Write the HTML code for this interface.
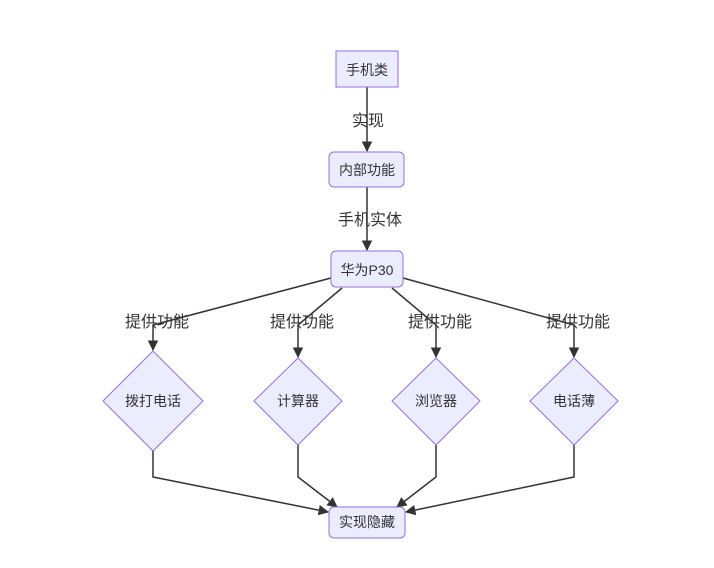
<!DOCTYPE html>
<html><head><meta charset="utf-8"><style>
html,body{margin:0;padding:0;background:#fff;}
svg text{font-family:"Liberation Sans","Noto Sans CJK SC",sans-serif;fill:#333;}
</style></head><body>
<svg width="714" height="563" viewBox="0 0 714 563" xmlns="http://www.w3.org/2000/svg">
<defs><marker id="a" viewBox="0 0 10 10" refX="9" refY="5" markerWidth="7" markerHeight="7" orient="auto"><path d="M0,0L10,5L0,10z" fill="#333"/></marker></defs>
<g fill="none" stroke="#333" stroke-width="1.5">
<path d="M367,87V151" marker-end="url(#a)"/>
<path d="M367,187V250" marker-end="url(#a)"/>
<path d="M331,278L153,325V350" marker-end="url(#a)"/>
<path d="M342,288L298,325V357" marker-end="url(#a)"/>
<path d="M392,288L436,325V357" marker-end="url(#a)"/>
<path d="M403,278L574,325V357" marker-end="url(#a)"/>
<path d="M153,451V477L328,512" marker-end="url(#a)"/>
<path d="M298,445V477L337,507" marker-end="url(#a)"/>
<path d="M436,445V477L397,507" marker-end="url(#a)"/>
<path d="M574,445V477L406,512" marker-end="url(#a)"/>
</g>
<g font-size="16" text-anchor="middle">
<text x="368" y="126">实现</text>
<text x="370" y="225">手机实体</text>
<text x="157" y="327">提供功能</text>
<text x="302" y="327">提供功能</text>
<text x="440" y="327">提供功能</text>
<text x="578" y="327">提供功能</text>
</g>
<g fill="#ECECFF" stroke="#9370DB" stroke-width="1">
<rect x="336" y="51" width="62" height="36"/>
<rect x="329" y="152" width="75" height="35" rx="5"/>
<rect x="331" y="251" width="72" height="36" rx="5"/>
<rect x="329" y="507" width="76" height="31" rx="5"/>
<polygon points="153,351 203,401 153,451 103,401"/>
<polygon points="298,358 342,401 298,445 254,401"/>
<polygon points="436,358 480,401 436,445 392,401"/>
<polygon points="574,358 618,401 574,445 530,401"/>
</g>
<g font-size="14" text-anchor="middle">
<text x="367" y="75">手机类</text>
<text x="367" y="175">内部功能</text>
<text x="367" y="275">华为P30</text>
<text x="367" y="527">实现隐藏</text>
<text x="153" y="406">拨打电话</text>
<text x="298" y="406">计算器</text>
<text x="436" y="406">浏览器</text>
<text x="574" y="406">电话薄</text>
</g>
</svg>
</body></html>
